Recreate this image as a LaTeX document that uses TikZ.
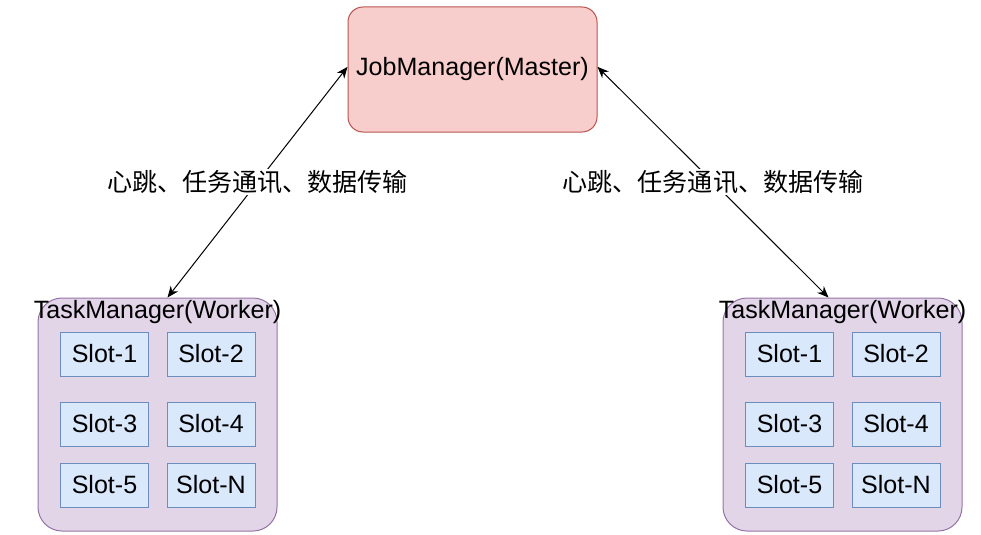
\documentclass[tikz,border=0pt]{standalone}
\usepackage{fontspec}
\setmainfont{Liberation Sans}
\newfontfamily\cjk{Noto Sans CJK SC}
\usetikzlibrary{arrows.meta}

\tikzset{
  jmbox/.style={draw={rgb,255:red,184;green,84;blue,80}, fill={rgb,255:red,248;green,206;blue,204},
    line width=0.75pt, rounded corners=11.25pt, inner sep=0pt,
    minimum width=186.75pt, minimum height=93.75pt},
  tmbox/.style={draw={rgb,255:red,150;green,115;blue,166}, fill={rgb,255:red,225;green,213;blue,231},
    line width=0.75pt, rounded corners=18pt, inner sep=0pt,
    minimum width=179.25pt, minimum height=174.75pt},
  slotbox/.style={draw={rgb,255:red,108;green,142;blue,191}, fill={rgb,255:red,218;green,232;blue,252},
    line width=0.75pt, inner sep=0pt, minimum width=66pt, minimum height=33pt},
  conn/.style={line width=0.75pt, {Stealth[length=8.5pt,width=7pt]}-{Stealth[length=8.5pt,width=7pt]}},
  lbl/.style={fill=white, inner sep=1pt, font=\cjk\fontsize{18.8}{21}\selectfont}
}

\begin{document}
\begin{tikzpicture}[x=0.75pt,y=0.75pt,yscale=-1,xscale=1, font=\fontsize{18.8}{21}\selectfont]
%set diagram size to 981 x 535
\useasboundingbox (0,0) rectangle (981,535);

%Shape: Rounded Rect [id:jm]
\node [jmbox] (jm) at (472.5,69.5) {JobManager(Master)};

%Shape: Rounded Rect [id:tm1]
\node [tmbox] (tm1) at (157.5,414.5) {};
%Shape: Rounded Rect [id:tm2]
\node [tmbox] (tm2) at (842.5,414.5) {};

% Text Node
\node (tm1text) at (157.5,312) {TaskManager(Worker)};
% Text Node
\node (tm2text) at (842.5,312) {TaskManager(Worker)};

%Shape: Rectangle [id:slots of tm1]
\node [slotbox] (s11) at (104.5,354) {Slot-1};
\node [slotbox] (s12) at (211,354) {Slot-2};
\node [slotbox] (s13) at (104.5,424) {Slot-3};
\node [slotbox] (s14) at (211,424) {Slot-4};
\node [slotbox] (s15) at (104.5,485) {Slot-5};
\node [slotbox] (s1n) at (211,485) {Slot-N};

%Shape: Rectangle [id:slots of tm2]
\node [slotbox] (s21) at (789.5,354) {Slot-1};
\node [slotbox] (s22) at (896,354) {Slot-2};
\node [slotbox] (s23) at (789.5,424) {Slot-3};
\node [slotbox] (s24) at (896,424) {Slot-4};
\node [slotbox] (s25) at (789.5,485) {Slot-5};
\node [slotbox] (s2n) at (896,485) {Slot-N};

%Straight Lines [id:jm-tm1]
\draw [conn] ([yshift=-2pt]jm.west) -- node [lbl] (lbl1) {心跳、任务通讯、数据传输} ([xshift=7.5pt]tm1.north);
%Straight Lines [id:jm-tm2]
\draw [conn] ([yshift=-2pt]jm.east) -- node [lbl] (lbl2) {心跳、任务通讯、数据传输} ([xshift=-10.5pt]tm2.north);

\end{tikzpicture}
\end{document}
